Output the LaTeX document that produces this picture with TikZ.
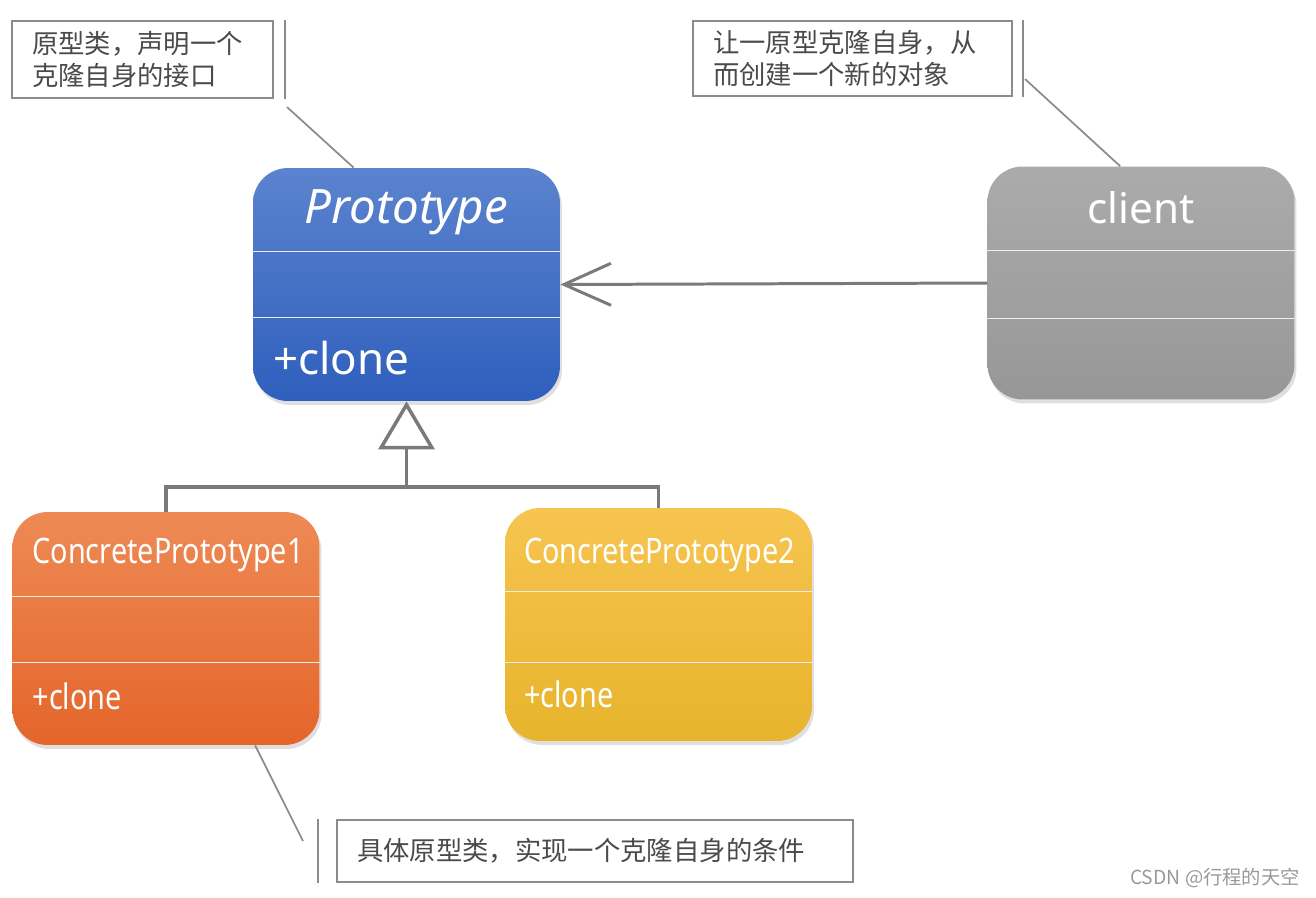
\documentclass[tikz,border=0pt]{standalone}
\usepackage{fontspec}
\setmainfont{Noto Sans}
\newfontfamily\cjk{Noto Sans CJK SC}
\newfontfamily\narrowfont[FakeStretch=0.82]{Noto Sans}
\usetikzlibrary{arrows.meta,shadows,calc}

\definecolor{protoTop}{HTML}{5B83CE}
\definecolor{protoBot}{HTML}{2F5FBD}
\definecolor{clientTop}{HTML}{ABABAB}
\definecolor{clientBot}{HTML}{979797}
\definecolor{orangeTop}{HTML}{EE8A55}
\definecolor{orangeBot}{HTML}{E4652A}
\definecolor{yellowTop}{HTML}{F7C450}
\definecolor{yellowMid}{HTML}{FCC22B}
\definecolor{yellowBot}{HTML}{E7B42C}
\definecolor{noteGray}{HTML}{8C8C8C}
\definecolor{noteText}{HTML}{4A4A4A}
\definecolor{linkGray}{HTML}{7A7A7A}

\tikzset{
  classbox/.style={rectangle, rounded corners=0.7cm, minimum width=6.14cm,
    minimum height=4.66cm, inner sep=0pt,
    drop shadow={shadow xshift=0.04cm, shadow yshift=-0.08cm, opacity=0.25}},
  sepline/.style={white!85!gray, line width=0.6pt},
  classtitle/.style={text=white, font=\fontsize{24}{28}\selectfont, inner sep=0pt},
  bigop/.style={text=white, font=\fontsize{25}{29}\selectfont, inner sep=0pt, anchor=west},
  smalltitle/.style={text=white, font=\narrowfont\fontsize{20}{24}\selectfont, inner sep=0pt, anchor=west},
  notebox/.style={draw=noteGray, line width=1.2pt, rectangle, inner xsep=0.4cm, inner ysep=0pt,
    align=left, text=noteText, font=\cjk\fontsize{15}{18}\selectfont},
  notetick/.style={noteGray, line width=1.2pt},
  noteline/.style={noteGray, line width=1pt},
  assoc/.style={linkGray, line width=1.7pt, -{Straight Barb[length=0.94cm, width=0.84cm]}},
  genline/.style={linkGray, line width=2pt},
}

\begin{document}
\begin{tikzpicture}[x={(0.02cm,0)}, y={(0,-0.02cm)}]
  \useasboundingbox (0,0) rectangle (1316,897);

  % class boxes
  \node[classbox, top color=protoTop, bottom color=protoBot] (proto) at (406.5,284.5) {};
  \node[classbox, top color=clientTop, bottom color=clientBot] (client) at (1141,283) {};
  \node[classbox, top color=orangeTop, bottom color=orangeBot] (cpa) at (166,628.5) {};
  \node[classbox, top color=yellowTop, middle color=yellowMid, bottom color=yellowBot] (cpb) at (658.5,624.5) {};

  % compartments
  \foreach \cls/\ya/\yb in {proto/1.68/3.0, client/1.68/3.04, cpa/1.7/3.02, cpb/1.68/3.1} {
    \draw[sepline] ([yshift=-\ya cm]\cls.north west) -- ([yshift=-\ya cm]\cls.north east);
    \draw[sepline] ([yshift=-\yb cm]\cls.north west) -- ([yshift=-\yb cm]\cls.north east);
  }

  % names and operations
  \node[classtitle, font=\fontsize{27}{31}\selectfont] (protoname) at ([yshift=-0.9cm]proto.north) {\itshape Prototype};
  \node[bigop] (protoop) at ([xshift=0.4cm, yshift=-3.8cm]proto.north west) {+clone};
  \node[classtitle] (clientname) at ([yshift=-0.84cm]client.north) {client};
  \node[smalltitle] (cpaname) at ([xshift=0.4cm, yshift=-0.86cm]cpa.north west) {ConcretePrototype1};
  \node[smalltitle] (cpaop) at ([xshift=0.4cm, yshift=-3.7cm]cpa.north west) {+clone};
  \node[smalltitle] (cpbname) at ([xshift=0.38cm, yshift=-0.94cm]cpb.north west) {ConcretePrototype2};
  \node[smalltitle] (cpbop) at ([xshift=0.38cm, yshift=-3.74cm]cpb.north west) {+clone};

  % client uses prototype
  \draw[assoc] (client.west) -- (proto.east);

  % generalization
  \coordinate (join) at (proto.south |- 0,487);
  \draw[genline] (cpa.north) |- (join) -| (cpb.north);
  \draw[genline, -{Triangle[open, length=0.96cm, width=1.12cm]}] (join) -- (proto.south);

  % notes
  \node[notebox, minimum width=5.22cm, minimum height=1.54cm, text width=4.42cm] (noteproto)
    at (142.5,59.5) {原型类，声明一个\\克隆自身的接口};
  \node[notebox, minimum width=6.38cm, minimum height=1.5cm, text width=5.58cm] (noteclient)
    at (852.5,58.5) {让一原型克隆自身，从\\而创建一个新的对象};
  \node[notebox, minimum width=10.32cm, minimum height=1.24cm, text width=9.52cm] (noteconc)
    at (595,851) {具体原型类，实现一个克隆自身的条件};

  \draw[notetick] ([xshift=0.22cm]noteproto.north east) -- ([xshift=0.22cm]noteproto.south east);
  \draw[notetick] ([xshift=0.2cm]noteclient.north east) -- ([xshift=0.2cm]noteclient.south east);
  \draw[notetick] ([xshift=-0.36cm]noteconc.north west) -- ([xshift=-0.36cm]noteconc.south west);

  \coordinate (noteprotofoot) at ([xshift=0.26cm, yshift=-0.16cm]noteproto.south east);
  \coordinate (protohook) at ([xshift=2.02cm]proto.north west);
  \coordinate (noteclientfoot) at ([xshift=0.24cm, yshift=0.36cm]noteclient.south east);
  \coordinate (clienthook) at ([xshift=2.66cm]client.north west);
  \coordinate (noteconcfoot) at ([xshift=-0.66cm, yshift=0.2cm]noteconc.west);
  \coordinate (cpahook) at ([xshift=4.86cm]cpa.south west);
  \draw[noteline] (noteprotofoot) -- (protohook);
  \draw[noteline] (noteclientfoot) -- (clienthook);
  \draw[noteline] (cpahook) -- (noteconcfoot);

  \node[text=gray!80, font=\cjk\fontsize{11}{13}\selectfont] (credit) at (1215,878) {CSDN @行程的天空};
\end{tikzpicture}
\end{document}
